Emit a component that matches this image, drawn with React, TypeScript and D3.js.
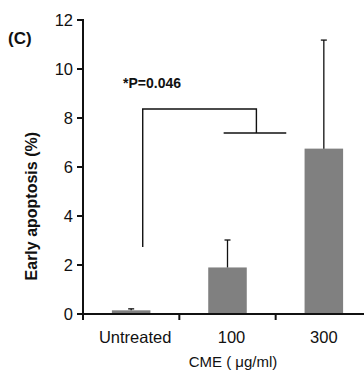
import { useRef, useEffect } from 'react'
import * as d3 from 'd3'

const categories = ['Untreated', '100', '300']
const means = [0.15, 1.9, 6.75]
const errors = [0.06, 1.12, 4.43]
const yTicks = [0, 2, 4, 6, 8, 10, 12]

// significance bracket, x in category-index units, y in data units
const bracketTop = 8.37
const bracketLeftX = 0.12
const bracketLeftBottom = 2.73
const bracketRightX = 1.3
const bracketBarY = 7.39
const bracketBarFrom = 0.96
const bracketBarTo = 1.61
const pLabel = '*P=0.046'

const FONT = '"Liberation Sans", Arial, sans-serif'

export default function App() {
  const svgRef = useRef<SVGSVGElement>(null)

  useEffect(() => {
    if (!svgRef.current) return
    const W = 364
    const H = 372
    const pad = { l: 83, t: 20, b: 314, r: 372 }

    const svg = d3.select(svgRef.current)
    svg.selectAll('*').remove()
    svg.attr('width', W).attr('height', H).attr('viewBox', `0 0 ${W} ${H}`)

    const x = d3.scaleBand().domain(categories).range([pad.l, pad.r]).paddingInner(0.6).paddingOuter(0.3)
    const y = d3.scaleLinear().domain([0, 12]).range([pad.b, pad.t])
    const step = x.step()
    const cx = (i: number) => x(categories[0])! + x.bandwidth() / 2 + i * step

    // bars
    svg.selectAll('.bar')
      .data(categories)
      .join('rect')
      .attr('x', d => x(d)!)
      .attr('y', (d, i) => y(means[i]))
      .attr('width', x.bandwidth())
      .attr('height', (d, i) => y(0) - y(means[i]))
      .attr('fill', '#808080')

    // error bars
    const eb = svg.append('g').attr('stroke', '#111').attr('stroke-width', 1.3)
    categories.forEach((c, i) => {
      const xc = x(c)! + x.bandwidth() / 2
      eb.append('line').attr('x1', xc).attr('x2', xc).attr('y1', y(means[i])).attr('y2', y(means[i] + errors[i]))
      eb.append('line').attr('x1', xc - 3).attr('x2', xc + 3).attr('y1', y(means[i] + errors[i])).attr('y2', y(means[i] + errors[i]))
    })

    // axes
    const ax = svg.append('g').attr('stroke', '#111').attr('stroke-width', 2)
    ax.append('line').attr('x1', pad.l).attr('x2', pad.l).attr('y1', y(12) - 1).attr('y2', y(0) + 1)
    ax.append('line').attr('x1', pad.l - 1).attr('x2', W).attr('y1', y(0)).attr('y2', y(0))
    ax.selectAll('.yt')
      .data(yTicks)
      .join('line')
      .attr('x1', pad.l - 6).attr('x2', pad.l)
      .attr('y1', d => y(d)).attr('y2', d => y(d))
    ax.selectAll('.xt')
      .data(d3.range(categories.length + 1))
      .join('line')
      .attr('x1', d => pad.l + d * step).attr('x2', d => pad.l + d * step)
      .attr('y1', y(0)).attr('y2', y(0) + 6)

    svg.selectAll('.ytl')
      .data(yTicks)
      .join('text')
      .attr('x', pad.l - 10).attr('y', d => y(d) + 6)
      .attr('text-anchor', 'end')
      .attr('font-size', 16.5).attr('font-family', FONT).attr('fill', '#111')
      .text(d => d)

    svg.selectAll('.xtl')
      .data(categories)
      .join('text')
      .attr('x', (d, i) => x(d)! + x.bandwidth() / 2 + (i === 0 ? 4 : i === 1 ? 4 : 0))
      .attr('y', 343)
      .attr('text-anchor', 'middle')
      .attr('font-size', 16.5).attr('font-family', FONT).attr('fill', '#111')
      .text(d => d)

    svg.append('text')
      .attr('x', 233).attr('y', 367)
      .attr('text-anchor', 'middle')
      .attr('font-size', 15).attr('font-family', FONT).attr('fill', '#111')
      .text('CME ( μg/ml)')

    svg.append('text')
      .attr('transform', `translate(37,${y(4.4)}) rotate(-90)`)
      .attr('text-anchor', 'middle')
      .attr('font-size', 16).attr('font-weight', 'bold').attr('font-family', FONT).attr('fill', '#111')
      .text('Early apoptosis (%)')

    svg.append('text')
      .attr('x', 8).attr('y', 44)
      .attr('font-size', 17).attr('font-weight', 'bold').attr('font-family', FONT).attr('fill', '#111')
      .text('(C)')

    // significance bracket
    const br = svg.append('g').attr('stroke', '#111').attr('stroke-width', 1.4).attr('fill', 'none')
    br.append('path').attr('d', d3.line()([
      [cx(bracketLeftX), y(bracketLeftBottom)],
      [cx(bracketLeftX), y(bracketTop)],
      [cx(bracketRightX), y(bracketTop)],
      [cx(bracketRightX), y(bracketBarY)],
    ]))
    br.append('line')
      .attr('x1', cx(bracketBarFrom)).attr('x2', cx(bracketBarTo))
      .attr('y1', y(bracketBarY)).attr('y2', y(bracketBarY))

    svg.append('text')
      .attr('x', 123).attr('y', 88)
      .attr('font-size', 14).attr('font-weight', 'bold').attr('font-family', FONT).attr('fill', '#111')
      .text(pLabel)
  }, [])

  return <svg ref={svgRef} style={{ position: 'absolute', left: 0, top: 0, background: '#fff' }} />
}
